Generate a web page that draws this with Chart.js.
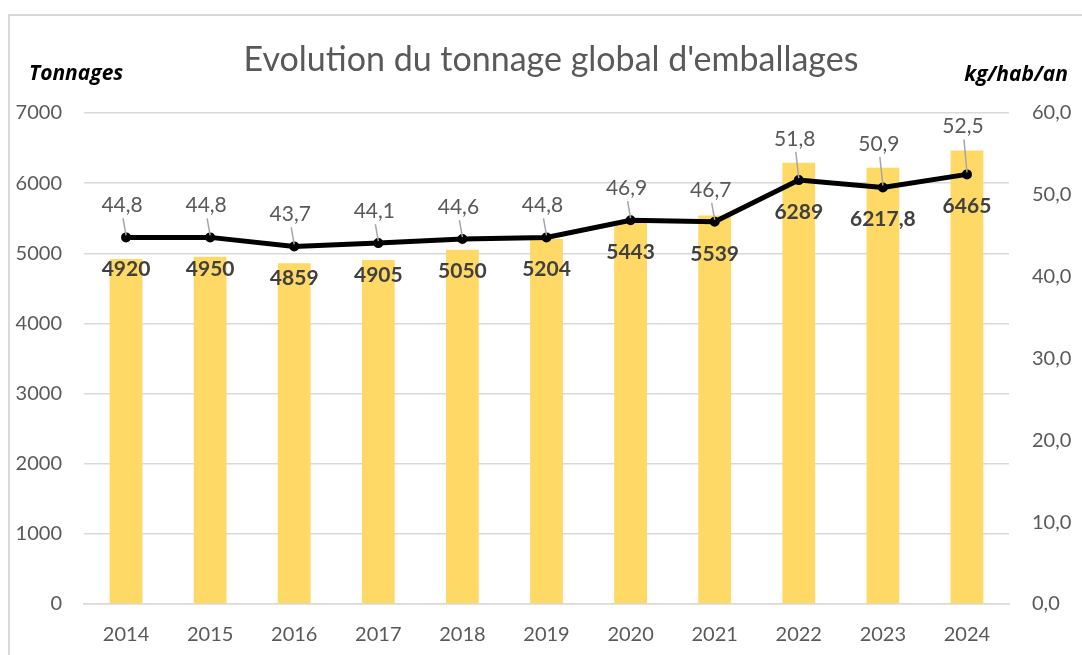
<!DOCTYPE html>
<html>
<head>
<meta charset="utf-8">
<script src="https://cdn.jsdelivr.net/npm/chart.js@4.4.1/dist/chart.umd.min.js"></script>
<style>
  html, body { margin: 0; padding: 0; background: #fff; overflow: hidden; }
  #frame { position: absolute; left: 8px; top: 14px; width: 1200px; height: 800px; border: 2px solid #d9d9d9; box-sizing: border-box; }
  #wrap { position: absolute; left: 0; top: 0; width: 1082px; height: 655px; }
</style>
</head>
<body>
<div id="frame"></div>
<div id="wrap"><canvas id="c" width="1082" height="655"></canvas></div>
<script>
const years = ['2014','2015','2016','2017','2018','2019','2020','2021','2022','2023','2024'];
const tonnages = [4920, 4950, 4859, 4905, 5050, 5204, 5443, 5539, 6289, 6217.8, 6465];
const kgHabAn = [44.8, 44.8, 43.7, 44.1, 44.6, 44.8, 46.9, 46.7, 51.8, 50.9, 52.5];
const titleText = "Evolution du tonnage global d'emballages";
const leftAxisTitle = 'Tonnages';
const rightAxisTitle = 'kg/hab/an';

const FONT = 'Lato, "Open Sans", sans-serif';
const GRAY = '#595959';

const frFmt = (v, d) => (d === undefined ? String(v) : v.toFixed(d)).replace('.', ',');

const labelPlugin = {
  id: 'labelsAndTitles',
  afterDatasetsDraw(chart) {
    const ctx = chart.ctx;
    const barMeta = chart.getDatasetMeta(0);
    const lineMeta = chart.getDatasetMeta(1);
    ctx.save();
    ctx.font = 'bold 21px ' + FONT;
    ctx.fillStyle = '#404040';
    ctx.textAlign = 'center';
    ctx.textBaseline = 'middle';
    barMeta.data.forEach((bar, i) => {
      const lp = lineMeta.data[i];
      ctx.fillText(frFmt(tonnages[i]), bar.x, lp.y + 32);
    });
    ctx.font = '21px ' + FONT;
    ctx.fillStyle = GRAY;
    lineMeta.data.forEach((pt, i) => {
      const bar = barMeta.data[i];
      const ly = Math.min(pt.y - 32, bar.y - 24);
      ctx.strokeStyle = '#a6a6a6';
      ctx.lineWidth = 1.5;
      ctx.beginPath();
      ctx.moveTo(pt.x - 3, ly + 13);
      ctx.lineTo(pt.x, pt.y - 2);
      ctx.stroke();
      ctx.fillText(frFmt(kgHabAn[i], 1), pt.x - 4, ly);
    });
    ctx.restore();
  },
  afterDraw(chart) {
    const ctx = chart.ctx;
    ctx.save();
    ctx.fillStyle = GRAY;
    ctx.font = '34px ' + FONT;
    ctx.textAlign = 'center';
    ctx.textBaseline = 'alphabetic';
    ctx.fillText(titleText, 551, 71);
    ctx.fillStyle = '#000';
    ctx.font = 'italic bold 21px "Open Sans", sans-serif';
    ctx.textAlign = 'left';
    ctx.fillText(leftAxisTitle, 29, 80);
    ctx.textAlign = 'right';
    ctx.fillText(rightAxisTitle, 1068, 81);
    ctx.restore();
  }
};

new Chart(document.getElementById('c'), {
  data: {
    labels: years,
    datasets: [
      {
        type: 'bar',
        label: 'Tonnages',
        data: tonnages,
        backgroundColor: '#FFD966',
        barPercentage: 0.39,
        categoryPercentage: 1,
        yAxisID: 'y',
        order: 2
      },
      {
        type: 'line',
        label: 'kg/hab/an',
        data: kgHabAn,
        borderColor: '#000',
        backgroundColor: '#000',
        borderWidth: 5,
        pointRadius: 2.5,
        pointBackgroundColor: '#000',
        pointBorderColor: '#000',
        tension: 0,
        yAxisID: 'y1',
        order: 1
      }
    ]
  },
  options: {
    responsive: false,
    animation: false,
    devicePixelRatio: 1,
    layout: { padding: { top: 113, left: 0, right: 0, bottom: 0 } },
    plugins: {
      legend: { display: false },
      title: { display: false },
      tooltip: { enabled: false }
    },
    scales: {
      x: {
        grid: { display: false, drawTicks: false },
        border: { display: true, color: '#d9d9d9', width: 1.5 },
        ticks: { color: GRAY, font: { family: FONT, size: 20 }, padding: 19, maxRotation: 0 },
        afterFit(s) { s.height = 51; }
      },
      y: {
        position: 'left',
        min: 0, max: 7000,
        ticks: { stepSize: 1000, color: GRAY, font: { family: FONT, size: 20 }, padding: 22,
          callback: v => String(v) },
        grid: { color: '#d9d9d9', lineWidth: 1.5, drawTicks: false },
        border: { display: false },
        afterFit(s) { s.width = 84; }
      },
      y1: {
        position: 'right',
        min: 0, max: 60,
        ticks: { stepSize: 10, color: GRAY, font: { family: FONT, size: 20 }, padding: 23,
          callback: v => frFmt(v, 1) },
        grid: { display: false, drawTicks: false },
        border: { display: false },
        afterFit(s) { s.width = 73; }
      }
    }
  },
  plugins: [labelPlugin]
});
</script>
</body>
</html>
